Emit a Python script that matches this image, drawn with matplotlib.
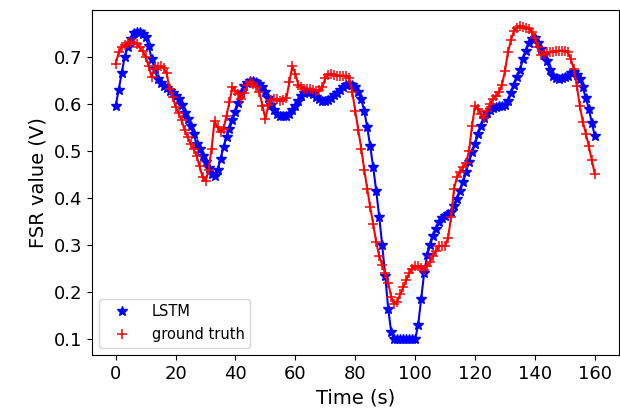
import matplotlib
matplotlib.use("Agg")
import matplotlib.pyplot as plt
import numpy as np

time_s = list(range(0, 161))

lstm = [
    0.596, 0.63, 0.665, 0.70, 0.72, 0.738, 0.75, 0.753, 0.753, 0.748,
    0.742, 0.723, 0.696, 0.674, 0.653, 0.645, 0.638, 0.633, 0.628, 0.622,
    0.617, 0.61, 0.598, 0.58, 0.568, 0.552, 0.536, 0.515, 0.504, 0.49,
    0.477, 0.463, 0.45, 0.447, 0.46, 0.483, 0.508, 0.53, 0.547, 0.565,
    0.583, 0.602, 0.622, 0.638, 0.645, 0.649, 0.649, 0.647, 0.642, 0.635,
    0.625, 0.612, 0.598, 0.587, 0.579, 0.575, 0.574, 0.574, 0.578, 0.586,
    0.596, 0.607, 0.617, 0.622, 0.626, 0.625, 0.62, 0.615, 0.61, 0.607,
    0.606, 0.608, 0.613, 0.618, 0.624, 0.63, 0.636, 0.641, 0.643, 0.64,
    0.635, 0.625, 0.61, 0.585, 0.55, 0.51, 0.465, 0.415, 0.36, 0.30,
    0.235, 0.165, 0.115, 0.10, 0.10, 0.10, 0.10, 0.10, 0.10, 0.10,
    0.10, 0.13, 0.185, 0.24, 0.278, 0.30, 0.32, 0.335, 0.348, 0.357,
    0.362, 0.366, 0.37, 0.382, 0.398, 0.415, 0.434, 0.455, 0.477, 0.497,
    0.515, 0.535, 0.553, 0.57, 0.58, 0.587, 0.592, 0.594, 0.595, 0.596,
    0.598, 0.605, 0.622, 0.64, 0.657, 0.672, 0.695, 0.712, 0.73, 0.737,
    0.74, 0.73, 0.717, 0.703, 0.69, 0.672, 0.66, 0.655, 0.653, 0.654,
    0.656, 0.66, 0.665, 0.668, 0.662, 0.653, 0.635, 0.612, 0.59, 0.56,
    0.532,
]

ground_truth = [
    0.685, 0.71, 0.72, 0.725, 0.73, 0.732, 0.73, 0.728, 0.72, 0.713,
    0.70, 0.68, 0.657, 0.674, 0.678, 0.68, 0.676, 0.665, 0.632, 0.615,
    0.594, 0.58, 0.565, 0.545, 0.53, 0.515, 0.505, 0.49, 0.468, 0.445,
    0.436, 0.46, 0.504, 0.564, 0.55, 0.54, 0.547, 0.575, 0.604, 0.636,
    0.628, 0.62, 0.61, 0.622, 0.64, 0.647, 0.642, 0.635, 0.625, 0.596,
    0.568, 0.598, 0.608, 0.61, 0.61, 0.606, 0.608, 0.612, 0.647, 0.68,
    0.664, 0.64, 0.635, 0.632, 0.632, 0.632, 0.63, 0.628, 0.63, 0.635,
    0.655, 0.662, 0.664, 0.662, 0.66, 0.66, 0.66, 0.66, 0.655, 0.625,
    0.585, 0.545, 0.505, 0.46, 0.42, 0.38, 0.345, 0.306, 0.277, 0.258,
    0.24, 0.22, 0.19, 0.175, 0.18, 0.195, 0.21, 0.225, 0.24, 0.25,
    0.255, 0.255, 0.252, 0.248, 0.255, 0.265, 0.277, 0.288, 0.298, 0.298,
    0.298, 0.315, 0.36, 0.42, 0.445, 0.455, 0.465, 0.475, 0.50, 0.553,
    0.596, 0.59, 0.578, 0.57, 0.585, 0.60, 0.61, 0.617, 0.625, 0.64,
    0.67, 0.71, 0.735, 0.755, 0.762, 0.766, 0.764, 0.762, 0.76, 0.753,
    0.74, 0.72, 0.703, 0.705, 0.71, 0.71, 0.71, 0.712, 0.713, 0.713,
    0.713, 0.71, 0.695, 0.674, 0.638, 0.596, 0.562, 0.537, 0.51, 0.48,
    0.451,
]

x_ticks = [0, 20, 40, 60, 80, 100, 120, 140, 160]
y_ticks = [0.1, 0.2, 0.3, 0.4, 0.5, 0.6, 0.7]

fig = plt.figure(figsize=(6.2, 4.18), dpi=100)
ax = fig.add_axes([0.148, 0.151, 0.850, 0.825])

ax.plot(time_s, lstm, color="blue", linewidth=1.5)
ax.plot(time_s, lstm, linestyle="none", marker="*", color="blue",
        markersize=7, label="LSTM")
ax.plot(time_s, ground_truth, color="red", linewidth=1.5)
ax.plot(time_s, ground_truth, linestyle="none", marker="+", color="red",
        markersize=7, markeredgewidth=1.1, label="ground truth")

ax.set_xticks(x_ticks)
ax.set_yticks(y_ticks)
ax.tick_params(labelsize=13)
ax.set_xlabel("Time (s)", fontsize=14)
ax.set_ylabel("FSR value (V)", fontsize=14)
ax.legend(loc="lower left", fontsize=10.5, handlelength=2.4)

fig.savefig("out.png", dpi=100)
